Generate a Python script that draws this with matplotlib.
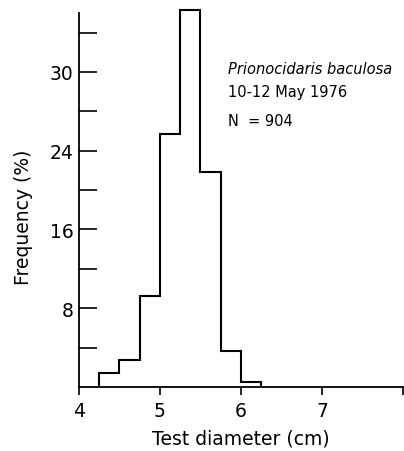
import numpy as np
import matplotlib.pyplot as plt

# size classes (cm) and frequency (%)
bin_edges = [4.25, 4.5, 4.75, 5.0, 5.25, 5.5, 5.75, 6.0, 6.25]
freq = [1.4, 2.7, 9.2, 25.7, 38.3, 21.8, 3.7, 0.5]

y_ticks = [4, 8, 12, 16, 20, 24, 28, 32, 36]
y_tick_labels = ["", "8", "", "16", "", "24", "", "30", ""]
x_ticks = [4, 5, 6, 7, 8]
x_tick_labels = ["4", "5", "6", "7", ""]

plt.rcParams["font.family"] = ["DejaVu Sans"]

fig = plt.figure(figsize=(4.04, 4.52), dpi=100)
ax = fig.add_axes([0.1955, 0.1416, 0.802, 0.8385])

# step outline of the histogram
xs = np.repeat(bin_edges, 2)
ys = np.concatenate([[0], np.repeat(freq, 2), [0]])
ax.plot(xs, ys, color="black", lw=1.5, solid_joinstyle="miter")

ax.set_xlim(4, 8)
ax.set_ylim(0, 38.5)

for side in ["top", "right"]:
    ax.spines[side].set_visible(False)
ax.spines["left"].set_bounds(0, 38)
ax.spines["left"].set_linewidth(1.3)
ax.spines["bottom"].set_linewidth(1.3)

ax.set_yticks(y_ticks)
ax.set_yticklabels(y_tick_labels, fontsize=13.5)
ax.tick_params(axis="y", direction="in", length=13, width=1.2, pad=4)

ax.set_xticks(x_ticks)
ax.set_xticklabels(x_tick_labels, fontsize=13.5)
ax.tick_params(axis="x", direction="out", length=6, width=1.2, pad=4)

ax.set_xlabel("Test diameter (cm)", fontsize=13.5, labelpad=6)
ax.set_ylabel("Frequency (%)", fontsize=13.5)
ax.yaxis.set_label_coords(-0.142, 0.45)

ax.text(5.84, 32.4, "Prionocidaris baculosa", fontsize=10.5, style="italic",
        va="center", ha="left")
ax.text(5.84, 30.0, "10-12 May 1976", fontsize=10.5, va="center", ha="left")
ax.text(5.84, 27.1, "N  = 904", fontsize=10.5, va="center", ha="left")

fig.savefig("out.png", dpi=100)
